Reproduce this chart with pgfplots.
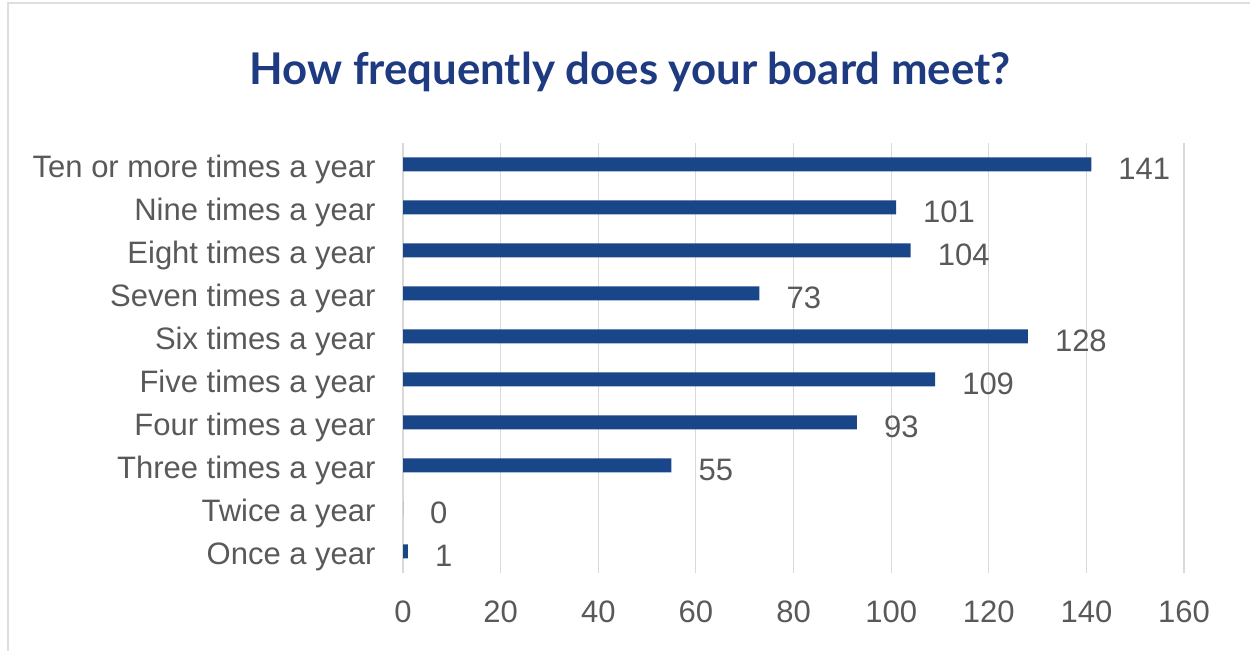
\documentclass[border=0pt]{standalone}
\usepackage{pgfplots}
\pgfplotsset{compat=1.18}
\usepackage{fontspec}
\setmainfont{Liberation Sans}
\newfontfamily\titlefont{Lato}
\definecolor{barblue}{RGB}{24,70,136}
\definecolor{titleblue}{RGB}{30,58,128}
\definecolor{lblgray}{RGB}{89,89,89}
\definecolor{gridgray}{RGB}{217,217,217}
\definecolor{framegray}{RGB}{222,222,222}
\begin{document}
\begin{tikzpicture}[x=1bp,y=1bp]
\path[use as bounding box] (0,0) rectangle (1250,651);
\draw[framegray, line width=2bp] (8,0) -- (8,647.5) -- (1250,647.5);
\node[anchor=base, text=titleblue, inner sep=0pt] at (630,566)
  {\titlefont\bfseries\fontsize{43.7bp}{48bp}\selectfont How frequently does your board meet?};
\begin{axis}[
  at={(403bp,78bp)}, anchor=south west,
  scale only axis, width=781bp, height=430bp,
  xbar, bar width=14bp,
  xmin=0, xmax=160, ymin=-0.5, ymax=9.5,
  xtick={0,20,...,160},
  ytick={0,...,9},
  yticklabels={Once a year,Twice a year,Three times a year,Four times a year,Five times a year,Six times a year,Seven times a year,Eight times a year,Nine times a year,Ten or more times a year},
  xmajorgrids, major grid style={gridgray, line width=1.2bp},
  axis line style={draw=none},
  major tick style={draw=none},
  /pgf/number format/assume math mode=true,
  tick label style={font=\fontsize{31bp}{36bp}\selectfont, text=lblgray, inner sep=0pt},
  yticklabel style={anchor=east, xshift=-23bp, yshift=-5bp},
  xticklabel style={anchor=north, yshift=-28bp},
  nodes near coords,
  nodes near coords style={anchor=west, inner sep=0pt, xshift=27bp, yshift=-4bp, font=\fontsize{31bp}{36bp}\selectfont, text=lblgray},
]
\addplot[fill=barblue, draw=none] coordinates {
 (1,0) (0,1) (55,2) (93,3) (109,4) (128,5) (73,6) (104,7) (101,8) (141,9)
};
\end{axis}
\end{tikzpicture}
\end{document}
